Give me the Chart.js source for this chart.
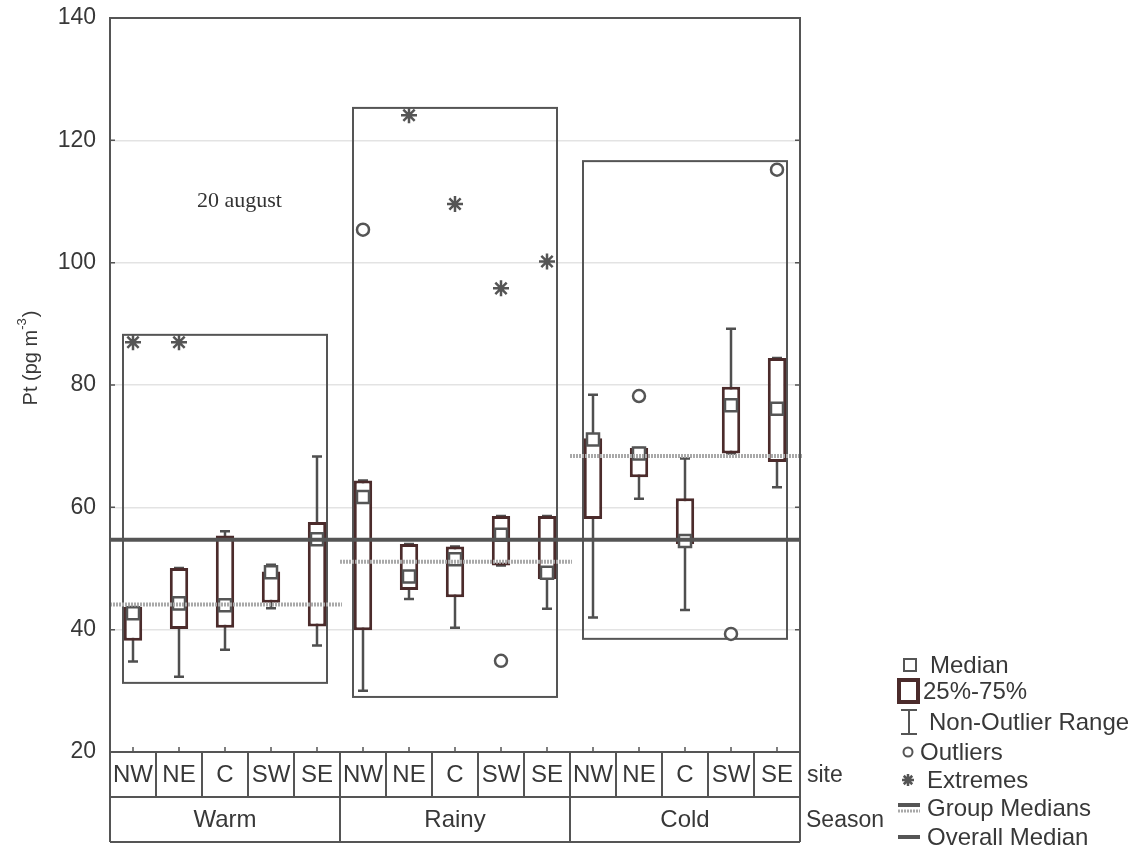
<!DOCTYPE html>
<html><head><meta charset="utf-8">
<script src="https://cdn.jsdelivr.net/npm/chart.js@4.4.1/dist/chart.umd.min.js"></script>
<style>html,body{margin:0;padding:0;background:#fff;}#wrap{width:1138px;height:850px;position:relative;}</style>
</head><body><div id="wrap"><canvas id="c" width="1138" height="850"></canvas></div>
<script>
const seasons = ['Warm', 'Rainy', 'Cold'];
const sites = ['NW', 'NE', 'C', 'SW', 'SE'];
const yTicks = [20, 40, 60, 80, 100, 120, 140];
const q1 =          [38.2, 40.1, 40.3, 44.4, 40.5,  39.9, 46.5, 45.3, 50.5, 48.3,  58.1, 64.9, 54.0, 68.8, 67.4];
const q3 =          [43.7, 50.1, 55.4, 49.5, 57.6,  64.4, 54.0, 53.6, 58.6, 58.6,  71.3, 69.7, 61.5, 79.7, 84.4];
const medians =     [42.7, 44.3, 44.0, 49.4, 54.8,  61.7, 48.7, 51.5, 55.5, 49.3,  71.1, 68.8, 54.5, 76.7, 76.1];
const whiskerLow =  [34.8, 32.3, 36.7, 43.5, 37.4,  30.0, 45.0, 40.3, 50.5, 43.4,  42.0, 61.4, 43.2, 68.8, 63.3];
const whiskerHigh = [43.7, 50.1, 56.1, 50.6, 68.3,  64.4, 54.0, 53.6, 58.6, 58.6,  78.4, 69.7, 68.0, 89.2, 84.4];
const outliers =    [null, null, null, null, null,  105.4, null, null, 34.9, null,  null, 78.2, null, 39.3, 115.2];
const extremes =    [87.0, 87.0, null, null, null,  null, 124.1, 109.6, 95.8, 100.2,  null, null, null, null, null];
const groupMedians = [44.1, 51.1, 68.4];
const groupFrameTop = [88.2, 125.3, 116.6];
const groupFrameBottom = [31.3, 29.0, 38.5];
const overallMedian = 54.7;
const annotationText = '20 august';
const yTitle = ['Pt (pg m', '-3', ')'];
const legendItems = ['Median', '25%-75%', 'Non-Outlier Range', 'Outliers', 'Extremes', 'Group Medians', 'Overall Median'];

const labels = [];
seasons.forEach(s => sites.forEach(t => labels.push(s + ' ' + t)));

const FONT = '"Liberation Sans", Arial, sans-serif';
const C_BOX = '#4b2b2b', C_LINE = '#4f4f4f', C_TEXT = '#383838';

function drawStar(ctx, cx, cy, r) {
  ctx.beginPath();
  for (let k = 0; k < 4; k++) {
    const a = k * Math.PI / 4;
    ctx.moveTo(cx - r * Math.cos(a), cy - r * Math.sin(a));
    ctx.lineTo(cx + r * Math.cos(a), cy + r * Math.sin(a));
  }
  ctx.stroke();
}

const extras = {
  id: 'extras',
  beforeDatasetsDraw(chart) {
    const {ctx, scales: {x, y}} = chart;
    ctx.save();
    ctx.strokeStyle = '#555'; ctx.lineWidth = 2;
    seasons.forEach((s, g) => {
      const l = x.getPixelForValue(g * 5) - 10, r = x.getPixelForValue(g * 5 + 4) + 10;
      const t = y.getPixelForValue(groupFrameTop[g]), b = y.getPixelForValue(groupFrameBottom[g]);
      ctx.strokeRect(l, t, r - l, b - t);
    });
    ctx.strokeStyle = C_LINE; ctx.lineWidth = 2.5;
    labels.forEach((_, i) => {
      const cx = x.getPixelForValue(i);
      const lo = y.getPixelForValue(whiskerLow[i]), hi = y.getPixelForValue(whiskerHigh[i]);
      ctx.beginPath();
      ctx.moveTo(cx, lo); ctx.lineTo(cx, hi);
      ctx.moveTo(cx - 5, lo); ctx.lineTo(cx + 5, lo);
      ctx.moveTo(cx - 5, hi); ctx.lineTo(cx + 5, hi);
      ctx.stroke();
    });
    ctx.restore();
  },
  afterDatasetsDraw(chart) {
    const {ctx, chartArea: a, scales: {x, y}} = chart;
    const cw = x.getPixelForValue(1) - x.getPixelForValue(0);
    ctx.save();
    ctx.strokeStyle = '#a9a9a9'; ctx.lineWidth = 4; ctx.setLineDash([2, 1]);
    groupMedians.forEach((v, g) => {
      const l = x.getPixelForValue(g * 5) - cw / 2, r = x.getPixelForValue(g * 5 + 4) + cw / 2 + 2;
      const py = y.getPixelForValue(v);
      ctx.beginPath(); ctx.moveTo(l, py); ctx.lineTo(r, py); ctx.stroke();
    });
    ctx.setLineDash([]);
    ctx.strokeStyle = '#555'; ctx.lineWidth = 4;
    const oy = y.getPixelForValue(overallMedian);
    ctx.beginPath(); ctx.moveTo(a.left, oy); ctx.lineTo(a.right, oy); ctx.stroke();
    ctx.lineWidth = 2; ctx.strokeStyle = '#555';
    ctx.strokeRect(a.left, a.top, a.right - a.left, a.bottom - a.top);
    ctx.lineWidth = 1.5;
    ctx.beginPath();
    yTicks.forEach(v => {
      const py = y.getPixelForValue(v);
      ctx.moveTo(a.left, py); ctx.lineTo(a.left + 5, py);
      ctx.moveTo(a.right, py); ctx.lineTo(a.right - 5, py);
    });
    labels.forEach((_, i) => {
      const px = x.getPixelForValue(i);
      ctx.moveTo(px, a.bottom); ctx.lineTo(px, a.bottom - 5);
    });
    ctx.stroke();
    ctx.restore();
  },
  afterDraw(chart) {
    const {ctx, chartArea: a, scales: {x, y}} = chart;
    const cw = x.getPixelForValue(1) - x.getPixelForValue(0);
    ctx.save();
    ctx.fillStyle = '#333';
    ctx.font = '22px "Liberation Serif", "Times New Roman", serif';
    ctx.textBaseline = 'alphabetic'; ctx.textAlign = 'left';
    ctx.fillText(annotationText, 197, 207);
    // y title
    ctx.save();
    ctx.translate(31, 358);
    ctx.rotate(-Math.PI / 2);
    ctx.fillStyle = C_TEXT;
    ctx.textBaseline = 'middle';
    ctx.font = '20px ' + FONT;
    const w1 = ctx.measureText(yTitle[0]).width;
    ctx.font = '13px ' + FONT;
    const w2 = ctx.measureText(yTitle[1]).width;
    ctx.font = '20px ' + FONT;
    const w3 = ctx.measureText(yTitle[2]).width;
    let sx = -(w1 + w2 + w3 + 1) / 2;
    ctx.textAlign = 'left';
    ctx.fillText(yTitle[0], sx, 0); sx += w1;
    ctx.font = '13px ' + FONT;
    ctx.fillText(yTitle[1], sx, -9); sx += w2 + 1;
    ctx.font = '20px ' + FONT;
    ctx.fillText(yTitle[2], sx, 0);
    ctx.restore();
    // table below
    const r1 = a.bottom, r2 = a.bottom + 45, r3 = a.bottom + 90;
    ctx.strokeStyle = '#555'; ctx.lineWidth = 2;
    ctx.beginPath();
    ctx.moveTo(a.left, r2); ctx.lineTo(a.right, r2);
    ctx.moveTo(a.left, r3); ctx.lineTo(a.right, r3);
    ctx.moveTo(a.left, r1); ctx.lineTo(a.left, r3);
    ctx.moveTo(a.right, r1); ctx.lineTo(a.right, r3);
    for (let i = 1; i < labels.length; i++) {
      const px = x.getPixelForValue(i) - cw / 2;
      ctx.moveTo(px, r1); ctx.lineTo(px, i % 5 === 0 ? r3 : r2);
    }
    ctx.stroke();
    ctx.fillStyle = C_TEXT; ctx.textAlign = 'center'; ctx.textBaseline = 'middle';
    ctx.font = '24px ' + FONT;
    labels.forEach((_, i) => {
      ctx.fillText(sites[i % 5], x.getPixelForValue(i), (r1 + r2) / 2 + 1);
    });
    seasons.forEach((s, g) => {
      const cx = (x.getPixelForValue(g * 5) + x.getPixelForValue(g * 5 + 4)) / 2;
      ctx.fillText(s, cx, (r2 + r3) / 2 + 1);
    });
    ctx.textAlign = 'left';
    ctx.font = '23px ' + FONT;
    ctx.fillText('site', a.right + 7, (r1 + r2) / 2 + 1);
    ctx.fillText('Season', a.right + 6, (r2 + r3) / 2 + 1);
    // legend
    const ly = [665, 691, 722, 752, 780, 808, 837];
    const tx = [930, 923, 929, 920, 927, 927, 927];
    ctx.font = '24px ' + FONT;
    ctx.fillStyle = C_TEXT;
    legendItems.forEach((t, k) => ctx.fillText(t, tx[k], ly[k] + 1));
    ctx.strokeStyle = '#555'; ctx.lineWidth = 2; ctx.fillStyle = '#fff';
    ctx.strokeRect(904, ly[0] - 6, 12, 12);
    ctx.strokeStyle = C_BOX; ctx.lineWidth = 4;
    ctx.strokeRect(899, ly[1] - 11, 19, 22);
    ctx.strokeStyle = '#555'; ctx.lineWidth = 2;
    ctx.beginPath();
    ctx.moveTo(909, ly[2] - 12); ctx.lineTo(909, ly[2] + 12);
    ctx.moveTo(901, ly[2] - 12); ctx.lineTo(917, ly[2] - 12);
    ctx.moveTo(901, ly[2] + 12); ctx.lineTo(917, ly[2] + 12);
    ctx.stroke();
    ctx.beginPath(); ctx.arc(908, ly[3], 4.5, 0, Math.PI * 2); ctx.stroke();
    ctx.lineWidth = 2.5; drawStar(ctx, 908, ly[4], 6);
    ctx.lineWidth = 4; ctx.strokeStyle = '#555';
    ctx.beginPath(); ctx.moveTo(898, ly[5] - 3); ctx.lineTo(920, ly[5] - 3); ctx.stroke();
    ctx.strokeStyle = '#a9a9a9'; ctx.lineWidth = 3; ctx.setLineDash([2, 1]);
    ctx.beginPath(); ctx.moveTo(898, ly[5] + 3); ctx.lineTo(920, ly[5] + 3); ctx.stroke();
    ctx.setLineDash([]);
    ctx.strokeStyle = '#555'; ctx.lineWidth = 4;
    ctx.beginPath(); ctx.moveTo(898, ly[6]); ctx.lineTo(920, ly[6]); ctx.stroke();
    ctx.restore();
  }
};

new Chart(document.getElementById('c'), {
  data: {
    labels: labels,
    datasets: [
      {type: 'bar', label: '25%-75%', data: q1.map((v, i) => [v, q3[i]]), backgroundColor: '#ffffff',
       borderColor: C_BOX, borderWidth: 3, borderSkipped: false, barPercentage: 0.4, categoryPercentage: 1, order: 3},
      {type: 'line', label: 'Median', data: medians, showLine: false, pointStyle: 'rect', pointRadius: 8.5,
       pointBorderWidth: 2.5, pointBorderColor: '#555', pointBackgroundColor: '#fff', order: 2},
      {type: 'line', label: 'Outliers', data: outliers, showLine: false, pointStyle: 'circle', pointRadius: 6,
       pointBorderWidth: 2.5, pointBorderColor: '#555', pointBackgroundColor: '#fff', order: 1},
      {type: 'line', label: 'Extremes', data: extremes, showLine: false, pointStyle: 'star', pointRadius: 8,
       pointBorderWidth: 2.5, pointBorderColor: '#555', pointBackgroundColor: '#555', order: 1}
    ]
  },
  options: {
    responsive: false, animation: false,
    layout: {padding: {left: 0, top: 18, right: 338, bottom: 98}},
    plugins: {legend: {display: false}, tooltip: {enabled: false}},
    scales: {
      x: {type: 'category', offset: true, display: false, grid: {display: false}},
      y: {
        min: 20, max: 140,
        afterBuildTicks: s => { s.ticks = yTicks.map(v => ({value: v})); },
        afterFit: s => { s.width = 110; s.paddingTop = 0; s.paddingBottom = 0; },
        ticks: {font: {size: 23, family: FONT}, color: C_TEXT, padding: 14},
        grid: {color: '#e3e3e3', lineWidth: 1.5, drawTicks: false},
        border: {display: false}
      }
    }
  },
  plugins: [extras]
});
</script></body></html>
